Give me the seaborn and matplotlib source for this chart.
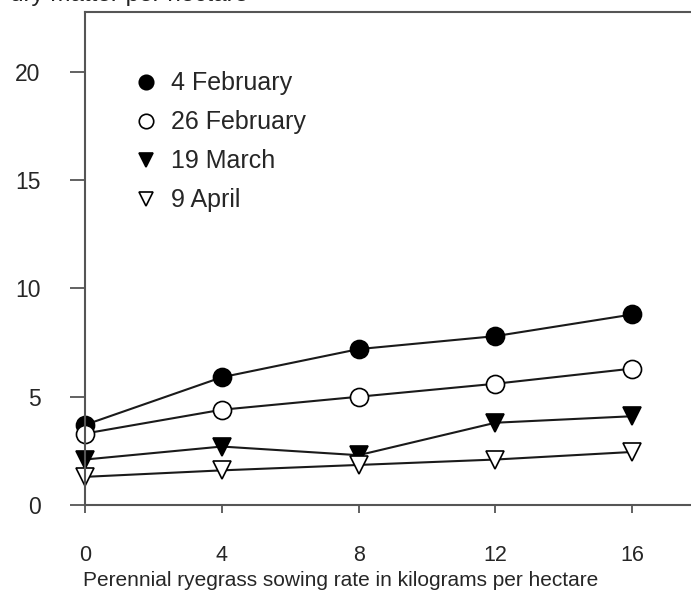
import matplotlib
matplotlib.use("Agg")
import matplotlib.pyplot as plt
import seaborn as sns
import pandas as pd

# sowing rate (kg/ha) and dry matter per hectare for each sowing date
sowing_rate = [0, 4, 8, 12, 16]
feb_4 = [3.7, 5.9, 7.2, 7.8, 8.8]
feb_26 = [3.3, 4.4, 5.0, 5.6, 6.3]
mar_19 = [2.1, 2.7, 2.3, 3.8, 4.1]
apr_9 = [1.3, 1.6, 1.85, 2.1, 2.45]
dates = ["4 February", "26 February", "19 March", "9 April"]
y_ticks = [0, 5, 10, 15, 20]

sns.set_style("white")
plt.rcParams['font.family'] = ['Liberation Sans', 'DejaVu Sans']

fig = plt.figure(figsize=(6.91, 5.90), dpi=100)
ax = fig.add_axes([85 / 691, 85 / 590, 615.6 / 691, 493 / 590])

series = [feb_4, feb_26, mar_19, apr_9]
styles = [
    dict(marker="o", markerfacecolor="black"),
    dict(marker="o", markerfacecolor="white"),
    dict(marker="v", markerfacecolor="black"),
    dict(marker="v", markerfacecolor="white"),
]
for label, vals, st in zip(dates, series, styles):
    df = pd.DataFrame({"rate": sowing_rate, "dm": vals})
    sns.lineplot(data=df, x="rate", y="dm", ax=ax, color="#1a1a1a",
                 linewidth=1.5, markersize=13, markeredgecolor="black",
                 markeredgewidth=1.2, label=label, clip_on=False, **st)

ax.set_xlim(0, 18)
ax.set_ylim(0, 22.77)
ax.set_xticks(sowing_rate)
ax.set_yticks(y_ticks)
ax.tick_params(axis="y", direction="out", length=11, width=1.3, color="#555555",
               pad=21, labelsize=16.5, left=True)
ax.tick_params(axis="x", direction="out", length=6, width=1.3, color="#555555",
               pad=23, labelsize=15.5, bottom=True)

for s in ax.spines.values():
    s.set_color("#555555")
    s.set_linewidth(1.5)

ax.set_xlabel("Perennial ryegrass sowing rate in kilograms per hectare",
              fontsize=15)
ax.xaxis.set_label_coords((341 - 85) / 615.6, -66 / 493)
ax.set_ylabel("")

fig.text(10 / 691, 1 - 1 / 590, "dry matter per hectare", fontsize=17.5,
         va="baseline", ha="left", color="#222222")

leg = ax.legend(loc="upper left", bbox_to_anchor=(0.047, 0.925), frameon=False,
                fontsize=18, handlelength=0.8, handletextpad=0.6,
                labelspacing=0.6, markerscale=0.8)
for line in leg.get_lines():
    line.set_linestyle("none")

fig.savefig("out.png", dpi=100)
